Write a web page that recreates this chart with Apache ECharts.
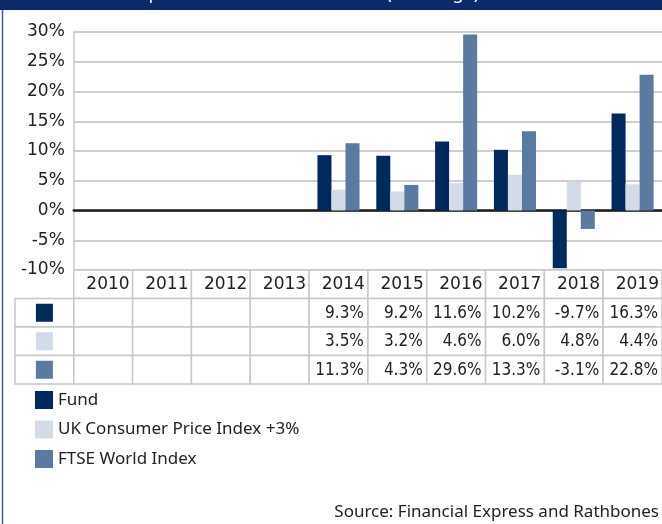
<!DOCTYPE html>
<html>
<head>
<meta charset="utf-8">
<script src="https://cdn.jsdelivr.net/npm/echarts@6/dist/echarts.min.js"></script>
<style>
html,body{margin:0;padding:0;background:#fff;}
#chart{width:662px;height:524px;}
</style>
</head>
<body>
<div id="chart"></div>
<script>
var years = ['2010','2011','2012','2013','2014','2015','2016','2017','2018','2019'];
var seriesNames = ['Fund','UK Consumer Price Index +3%','FTSE World Index'];
var fund = [null,null,null,null,9.3,9.2,11.6,10.2,-9.7,16.3];
var cpi  = [null,null,null,null,3.5,3.2,4.6,6.0,4.8,4.4];
var ftse = [null,null,null,null,11.3,4.3,29.6,13.3,-3.1,22.8];
var yTicks = {min:-10, max:30, interval:5};
var colors = ['#002a5c','#d3dbe8','#5b7aa1'];
var titleText = 'Discrete annual performance vs benchmark (% change)';
var sourceText = 'Source: Financial Express and Rathbones';

var allSeries = [fund, cpi, ftse];
var tableCols = [''].concat(years);
var tableRows = ['head'].concat(seriesNames);
var cells = [];
for (var r = 0; r < tableRows.length; r++) {
  for (var c = 0; c < tableCols.length; c++) {
    var text = '', color = null;
    if (r === 0 && c > 0) text = tableCols[c];
    if (r > 0 && c === 0) color = colors[r-1];
    if (r > 0 && c > 0) {
      var v = allSeries[r-1][c-1];
      text = (v === null) ? '' : v.toFixed(1) + '%';
    }
    cells.push({c:c, r:r, text:text, color:color});
  }
}

var chart = echarts.init(document.getElementById('chart'), null, {renderer:'canvas'});
var labelFont = 'DejaVu Sans';
var option = {
  animation:false,
  color: colors,
  title: {
    text: sourceText, right: 3, top: 504, padding:0,
    textStyle: {fontFamily:'Noto Sans', fontSize:17, fontWeight:'normal', color:'#222'}
  },
  legend: {
    data: seriesNames, orient:'vertical', left:35, top:391, padding:0,
    itemWidth:18, itemHeight:18, itemGap:11.5, icon:'rect',
    textStyle: {fontFamily:'Noto Sans', fontSize:17, color:'#222', lineHeight:18}
  },
  graphic: [
    {type:'rect', left:0, top:0, shape:{width:662, height:10}, style:{fill:'#0c2a6a'}, z:10},
    {type:'text', x:12, y:2.5, style:{text:titleText, fill:'#ffffff', font:'18px "Noto Sans"', textVerticalAlign:'bottom'}, z:11},
    {type:'line', shape:{x1:2.5, y1:10, x2:2.5, y2:524}, style:{stroke:'#3d5e9e', lineWidth:1.5}, z:10}
  ],
  grid: [
    {left:73.8, right:0, top:32, bottom:254},
    {left:15, right:0, top:270, height:114}
  ],
  xAxis: [
    {gridIndex:0, type:'category', data:years,
     axisLine:{show:true, onZero:true, lineStyle:{color:'#1a1a1a', width:2.5}},
     axisTick:{show:false}, axisLabel:{show:false}, splitLine:{show:false}},
    {gridIndex:1, type:'category', data:tableCols, show:false}
  ],
  yAxis: [
    {gridIndex:0, type:'value', min:yTicks.min, max:yTicks.max, interval:yTicks.interval,
     axisLine:{show:true, lineStyle:{color:'#c8c8c8', width:1.5}},
     axisTick:{show:false},
     axisLabel:{formatter:'{value}%', fontFamily:labelFont, fontSize:17, color:'#222', margin:9},
     splitLine:{lineStyle:{color:'#cfcfcf', width:2}}},
    {gridIndex:1, type:'category', data:tableRows, inverse:true, show:false}
  ],
  series: [
    {name:seriesNames[0], type:'bar', data:fund, xAxisIndex:0, yAxisIndex:0, barGap:'0%', barCategoryGap:'28.5%'},
    {name:seriesNames[1], type:'bar', data:cpi, xAxisIndex:0, yAxisIndex:0, barGap:'0%', barCategoryGap:'28.5%'},
    {name:seriesNames[2], type:'bar', data:ftse, xAxisIndex:0, yAxisIndex:0, barGap:'0%', barCategoryGap:'28.5%'},
    {type:'custom', xAxisIndex:1, yAxisIndex:1, silent:true,
     data: cells.map(function(d){return [d.c, d.r];}),
     renderItem: function(params, api){
       var d = cells[params.dataIndex];
       var p = api.coord([d.c, d.r]);
       var s = api.size([1,1]);
       var x = p[0]-s[0]/2, y = p[1]-s[1]/2, w = s[0], h = s[1];
       var children = [];
       if (!(d.r === 0 && d.c === 0)) {
         children.push({type:'rect', shape:{x:x, y:y, width:w, height:h},
           style:{fill:'#fff', stroke:'#c8c8c8', lineWidth:1.5}});
       }
       if (d.color) {
         children.push({type:'rect', shape:{x:p[0]-8.5, y:p[1]-9, width:17, height:18},
           style:{fill:d.color}});
       }
       if (d.text) {
         var isHead = d.r === 0;
         children.push({type:'text', x:x+w-(isHead?3:4), y:p[1]+0.5,
           style:{text:d.text, textAlign:'right', textVerticalAlign:'middle',
             fill:'#222', font: isHead ? '17px "DejaVu Sans"' : '17px "DejaVu Sans Condensed", "DejaVu Sans"'}});
       }
       return {type:'group', children:children};
     }}
  ]
};
chart.setOption(option);
</script>
</body>
</html>
